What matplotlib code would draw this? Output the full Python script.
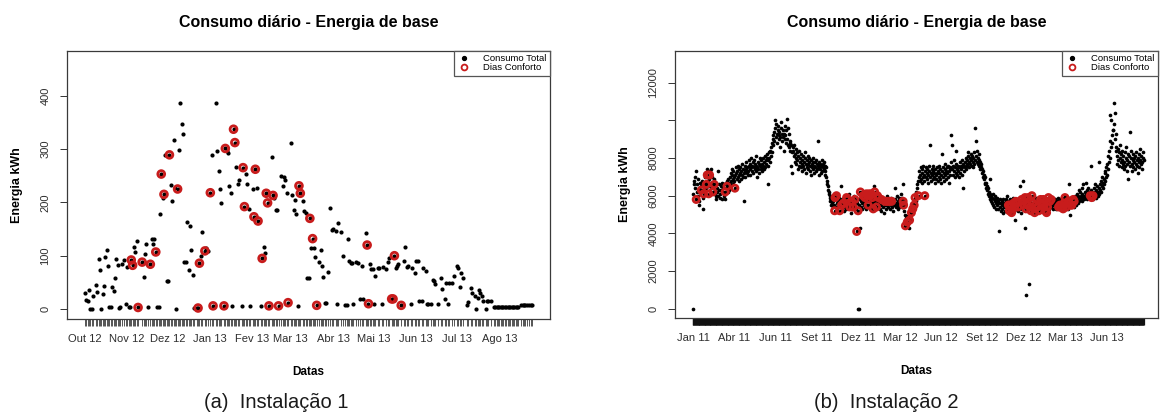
import matplotlib
matplotlib.use("Agg")
import matplotlib.pyplot as plt
import matplotlib.dates as mdates
import numpy as np
from matplotlib.lines import Line2D

plt.rcParams['font.family'] = ['Liberation Sans', 'DejaVu Sans']

TITLE = 'Consumo diário - Energia de base'
XLABEL = 'Datas'
YLABEL = 'Energia kWh'
LEG_TOTAL = 'Consumo Total'
LEG_CONF = 'Dias Conforto'

# ---------------- Instalação 1 (day offsets from start, kWh) ----------------
inst1_start = '2012-10-01'
inst1_days = [0, 1, 2, 3, 4, 5, 6, 8, 9, 10, 11, 12, 13, 14, 15, 16, 17, 18, 19, 20,
              21, 22, 23, 24, 25, 26, 27, 29, 30, 31, 32, 33, 34, 35, 36, 37, 38, 39, 42, 43,
              44, 45, 46, 48, 49, 50, 51, 52, 53, 54, 55, 56, 57, 58, 59, 60, 61, 62, 63, 64,
              65, 66, 67, 68, 69, 70, 71, 72, 73, 74, 75, 76, 77, 78, 79, 80, 82, 83, 84, 85,
              86, 88, 89, 90, 92, 93, 94, 96, 97, 98, 99, 100, 102, 103, 104, 105, 106, 107, 108, 109,
              110, 111, 112, 113, 115, 116, 117, 118, 119, 120, 121, 123, 124, 125, 126, 127, 129, 130, 131, 132,
              133, 134, 135, 137, 138, 139, 140, 141, 142, 144, 145, 146, 147, 148, 149, 151, 152, 153, 154, 155,
              156, 157, 158, 160, 161, 162, 163, 164, 165, 166, 167, 168, 169, 170, 172, 173, 174, 175, 176, 177,
              178, 180, 181, 182, 184, 185, 186, 188, 189, 191, 192, 193, 194, 195, 196, 197, 199, 200, 202, 203,
              204, 206, 207, 208, 209, 210, 211, 212, 213, 215, 216, 218, 219, 221, 222, 223, 225, 226, 227, 228,
              229, 230, 232, 234, 235, 236, 237, 239, 240, 242, 243, 244, 245, 247, 248, 250, 251, 252, 254, 255,
              256, 257, 259, 261, 262, 264, 265, 266, 267, 269, 271, 273, 274, 275, 276, 277, 280, 281, 283, 284,
              286, 287, 288, 289, 290, 291, 292, 294, 295, 296, 298, 300, 301, 302, 303, 304, 305, 306, 307, 308,
              309, 310, 311, 312, 313, 314, 315, 316, 317, 318, 320, 321, 322, 323, 324, 326, 327, 328]
inst1_kwh = [31, 17, 16, 36, 0, 0, 24, 45, 32, 94, 74, 0, 28, 44, 97, 110, 80, 3, 3, 42,
             33, 59, 94, 82, 2, 4, 84, 92, 9, 78, 4, 3, 92, 82, 117, 107, 127, 3, 88, 61,
             104, 122, 3, 84, 132, 122, 132, 107, 3, 3, 178, 253, 209, 215, 289, 52, 52, 289, 232, 202,
             317, 226, 1, 225, 298, 386, 346, 328, 88, 88, 164, 74, 155, 111, 64, 2, 2, 2, 86, 100,
             144, 109, 114, 108, 218, 289, 6, 387, 296, 258, 225, 198, 6, 301, 296, 292, 231, 218, 5, 337,
             312, 267, 234, 241, 6, 265, 192, 253, 234, 187, 6, 225, 173, 262, 227, 165, 6, 95, 117, 105,
             217, 199, 6, 285, 213, 208, 186, 185, 6, 250, 231, 248, 242, 218, 12, 311, 213, 186, 205, 178,
             5, 231, 217, 203, 184, 180, 58, 58, 170, 114, 132, 114, 97, 7, 88, 111, 80, 61, 12, 12,
             69, 190, 148, 150, 147, 9, 161, 144, 100, 7, 7, 132, 90, 86, 86, 10, 89, 86, 19, 81,
             19, 143, 120, 10, 84, 75, 75, 10, 62, 77, 77, 9, 78, 75, 88, 95, 19, 19, 100, 77,
             81, 84, 7, 90, 117, 79, 81, 9, 77, 68, 91, 91, 16, 16, 77, 72, 9, 9, 9, 54,
             52, 47, 9, 59, 37, 19, 49, 9, 49, 49, 62, 81, 77, 42, 67, 58, 7, 13, 39, 30,
             24, 0, 21, 36, 30, 24, 16, 0, 16, 16, 16, 4, 4, 4, 4, 4, 4, 4, 4, 4,
             4, 4, 4, 4, 4, 4, 4, 4, 4, 4, 7, 7, 7, 7, 7, 7, 7, 7]
inst1_conforto = [34, 35, 39, 42, 48, 52, 56, 58, 62, 68, 83, 84, 88, 92, 94, 102, 103, 109, 110, 116,
                  117, 124, 125, 127, 130, 133, 134, 135, 138, 142, 149, 157, 158, 165, 167, 170, 207, 208, 225, 226,
                  227, 232]
inst1_tick_dates = ['2012-10-01', '2012-11-01', '2012-12-01', '2013-01-01', '2013-02-01', '2013-03-01',
                    '2013-04-01', '2013-05-01', '2013-06-01', '2013-07-01', '2013-08-01']
inst1_tick_labels = ['Out 12', 'Nov 12', 'Dez 12', 'Jan 13', 'Fev 13', 'Mar 13', 'Abr 13',
                     'Mai 13', 'Jun 13', 'Jul 13', 'Ago 13']
inst1_yticks = [0, 100, 200, 300, 400]

# ---------------- Instalação 2 (daily values, hundreds of kWh) ----------------
inst2_start = '2011-01-01'
inst2_2011 = [0, 61, 66, 68, 70, 64, 73, 58, 62, 66,
              60, 69, 64, 57, 55, 63, 67, 65, 63, 68,
              62, 59, 53, 61, 65, 70, 67, 72, 64, 66,
              74, 71, 68, 65, 61, 69, 71, 73, 66, 64,
              74, 70, 67, 62, 65, 69, 66, 63, 61, 67,
              60, 58, 64, 62, 60, 73, 66, 63, 61, 59,
              65, 63, 62, 67, 58, 62, 64, 66, 60, 58,
              62, 67, 64, 68, 65, 62, 66, 69, 63, 67,
              70, 66, 72, 68, 71, 74, 66, 69, 73, 68,
              70, 64, 71, 75, 72, 69, 73, 76, 70, 74,
              71, 68, 72, 75, 73, 69, 77, 71, 74, 70,
              72, 57, 73, 76, 70, 74, 78, 72, 75, 71,
              73, 76, 79, 74, 71, 77, 75, 80, 73, 76,
              78, 72, 75, 79, 74, 77, 81, 73, 76, 70,
              75, 78, 74, 77, 72, 80, 76, 74, 79, 75,
              73, 77, 80, 76, 74, 78, 81, 75, 79, 77,
              80, 82, 76, 66, 79, 83, 80, 78, 84, 81,
              86, 88, 83, 90, 92, 87, 94, 89, 96, 100,
              91, 98, 93, 88, 95, 97, 92, 90, 94, 86,
              91, 96, 99, 93, 89, 95, 91, 84, 93, 97,
              90, 92, 88, 95, 101, 90, 87, 96, 93, 86,
              89, 84, 88, 76, 87, 83, 72, 86, 84, 81,
              87, 82, 78, 85, 80, 77, 83, 79, 74, 81,
              76, 84, 78, 80, 75, 82, 77, 73, 79, 81,
              76, 78, 74, 80, 83, 77, 72, 79, 75, 81,
              77, 74, 78, 80, 73, 76, 79, 71, 77, 75,
              78, 74, 80, 76, 72, 78, 75, 79, 73, 77,
              74, 76, 89, 75, 71, 78, 74, 77, 72, 76,
              79, 73, 77, 75, 78, 74, 71, 76, 73, 75,
              70, 68, 66, 63, 65, 61, 62, 59, 60, 57,
              58, 55, 59, 56, 54, 57, 55, 60, 52, 59,
              54, 58, 60, 56, 53, 57, 55, 59, 54, 52,
              57, 65, 56, 55, 53, 58, 55, 56, 52, 57,
              54, 59, 55, 53, 59, 58, 56, 54, 57, 61,
              55, 54, 58, 51, 56, 57, 53, 55, 54, 58,
              56, 60, 58, 55, 53, 57, 41, 56, 0, 52,
              55, 58, 0, 43, 62]
inst2_2012 = [57, 54, 56, 53, 58,
              60, 55, 57, 54, 59, 56, 53, 61, 57, 60,
              55, 55, 58, 61, 57, 53, 60, 56, 61, 58,
              59, 56, 53, 65, 57, 62, 55, 58, 54, 54,
              57, 60, 56, 59, 55, 57, 53, 58, 55, 52,
              58, 56, 59, 54, 57, 51, 56, 57, 55, 58,
              53, 57, 60, 55, 57, 54, 58, 56, 57, 53,
              59, 55, 57, 54, 58, 56, 52, 57, 55, 64,
              58, 54, 56, 60, 55, 53, 57, 59, 56, 54,
              58, 55, 61, 57, 54, 59, 66, 57, 55, 52,
              56, 50, 44, 48, 46, 49, 46, 45, 48, 43,
              50, 47, 49, 52, 50, 51, 54, 52, 53, 56,
              55, 55, 58, 59, 57, 62, 60, 64, 66, 68,
              60, 70, 73, 68, 71, 75, 69, 72, 67, 74,
              70, 76, 71, 68, 60, 73, 70, 75, 72, 69,
              74, 71, 67, 76, 73, 87, 70, 72, 68, 74,
              71, 69, 73, 76, 70, 72, 67, 74, 71, 69,
              75, 72, 68, 73, 70, 76, 72, 69, 74, 71,
              67, 82, 73, 70, 75, 72, 68, 74, 71, 77,
              73, 69, 75, 72, 70, 76, 73, 67, 74, 71,
              75, 78, 92, 87, 74, 71, 76, 73, 79, 70,
              75, 72, 77, 84, 74, 71, 76, 73, 70, 75,
              78, 72, 76, 74, 79, 75, 71, 77, 64, 76,
              73, 78, 75, 80, 74, 77, 79, 76, 81, 83,
              78, 75, 80, 77, 82, 79, 76, 81, 78, 75,
              80, 77, 83, 96, 79, 89, 81, 78, 84, 80,
              77, 82, 79, 76, 78, 74, 77, 75, 72, 74,
              70, 73, 69, 71, 67, 70, 66, 64, 67, 63,
              65, 61, 64, 60, 62, 58, 69, 61, 57, 60,
              56, 59, 55, 61, 58, 54, 57, 60, 53, 56,
              58, 55, 59, 53, 57, 41, 56, 54, 58, 52,
              56, 53, 57, 55, 51, 58, 54, 56, 52, 55,
              57, 58, 54, 60, 56, 53, 55, 57, 52, 55,
              58, 54, 56, 51, 57, 53, 59, 56, 52, 55,
              54, 47, 57, 53, 56, 58, 52, 54, 56, 53,
              57, 65, 54, 51, 56, 58, 53, 55, 68, 57,
              54, 60, 59, 43, 53, 7, 55, 56, 58, 59,
              54]
inst2_2013 = [13, 57, 54, 56, 52, 58, 60, 55, 53,
              56, 58, 54, 51, 57, 55, 59, 53, 56, 54,
              58, 55, 52, 57, 55, 53, 58, 54, 56, 59,
              55, 52, 58, 56, 54, 57, 52, 55, 58, 51,
              56, 54, 57, 59, 55, 53, 57, 56, 54, 58,
              55, 57, 53, 56, 59, 55, 57, 54, 58, 56,
              53, 57, 55, 59, 56, 54, 57, 55, 55, 58,
              54, 56, 54, 59, 55, 53, 57, 56, 60, 59,
              55, 57, 54, 58, 56, 53, 57, 59, 66, 56,
              50, 58, 55, 57, 55, 59, 56, 58, 54, 57,
              60, 58, 55, 59, 57, 61, 58, 56, 60, 63,
              57, 59, 62, 58, 60, 64, 57, 61, 59, 66,
              60, 58, 62, 59, 61, 67, 60, 63, 58, 61,
              64, 60, 62, 59, 60, 63, 76, 59, 62, 58,
              60, 61, 64, 60, 62, 66, 59, 63, 61, 65,
              62, 60, 78, 64, 61, 66, 63, 68, 62, 65,
              70, 64, 67, 69, 66, 72, 68, 73, 70, 75,
              71, 77, 74, 81, 78, 84, 80, 89, 103, 86,
              100, 92, 88, 95, 95, 98, 109, 104, 90, 86,
              93, 84, 81, 77, 85, 79, 83, 76, 80, 87,
              78, 82, 75, 79, 84, 77, 81, 74, 78, 83,
              76, 80, 86, 77, 73, 79, 82, 69, 78, 81,
              94, 76, 80, 84, 77, 73, 79, 82, 75, 80,
              78, 74, 81, 77, 83, 76, 79, 72, 80, 78,
              82, 75, 79, 85, 77, 81, 74, 78, 80, 83, 79]
inst2_conforto = [7, 18, 23, 29, 31, 34, 36, 43, 46, 70, 74, 91,
                  308, 309, 312, 319, 323, 327, 334, 335, 341, 345, 348, 352, 356, 359, 364, 370, 374, 377,
                  379, 381, 383, 386, 388, 390, 392, 395, 399, 401, 403, 410, 417, 421, 424, 428, 432, 457,
                  458, 462, 466, 471, 475, 478, 481, 483, 490, 504,
                  686, 688, 689, 691, 693, 695, 697, 700, 702, 704, 707, 715, 719, 722, 724, 726, 729, 733,
                  735, 737, 740, 743, 745, 749, 752, 756, 758, 760, 762, 764, 766, 769, 771, 773, 776, 779,
                  795, 798, 800, 802, 805, 807, 809, 812, 814, 816, 819, 822, 824, 827, 829,
                  864, 867, 870]
inst2_tick_labels = ['Jan 11', 'Abr 11', 'Jun 11', 'Set 11', 'Dez 11', 'Mar 12', 'Jun 12',
                     'Set 12', 'Dez 12', 'Mar 13', 'Jun 13']
inst2_yticks = [0, 2000, 4000, 6000, 8000, 10000, 12000]
inst2_yticklabels = ['0', '2000', '4000', '6000', '8000', '', '12000']

RED = '#C81C1C'
TXT = '#2e2e2e'

fig = plt.figure(figsize=(11.6, 4.17), dpi=100)
W, H = 1160.0, 417.0
ax1 = fig.add_axes([67 / W, 1 - 319 / H, 483 / W, 268 / H])
ax2 = fig.add_axes([675 / W, 1 - 318 / H, 483 / W, 267 / H])

# data -> dates
d1 = np.datetime64(inst1_start) + np.array(inst1_days, dtype='timedelta64[D]')
v1 = np.array(inst1_kwh, dtype=float)
lookup1 = dict(zip(inst1_days, inst1_kwh))
c1d = np.datetime64(inst1_start) + np.array(inst1_conforto, dtype='timedelta64[D]')
c1v = np.array([lookup1[d] for d in inst1_conforto], dtype=float)

v2 = np.array(inst2_2011 + inst2_2012 + inst2_2013, dtype=float) * 100
d2 = np.datetime64(inst2_start) + np.arange(len(v2)).astype('timedelta64[D]')
c2d = d2[inst2_conforto]
c2v = v2[inst2_conforto]


def style(ax, dates, vals, cd, cv, s_dot, s_ring, pad_l, pad_r, ylim, tick_w):
    ax.scatter(dates, vals, s=s_dot, c='black', marker='o', linewidths=0, zorder=2)
    ax.scatter(cd, cv, s=s_ring, facecolors='none', edgecolors=RED, linewidths=2.0, zorder=3)
    x0 = mdates.date2num(dates.min())
    x1 = mdates.date2num(dates.max())
    rng = x1 - x0
    ax.set_xlim(x0 - pad_l * rng, x1 + pad_r * rng)
    ax.set_ylim(*ylim)
    for sp in ax.spines.values():
        sp.set_color('#3a3a3a')
        sp.set_linewidth(0.9)
    ax.set_xticks(mdates.date2num(dates), minor=True)
    ax.tick_params(axis='x', which='both', length=5, width=tick_w, color='#111111',
                   labelsize=8, labelcolor=TXT, pad=6)
    ax.tick_params(axis='y', length=5, width=0.7, color='#333333', labelsize=8,
                   labelcolor=TXT, pad=7)
    ax.set_title(TITLE, fontsize=11.5, fontweight='bold', pad=17)
    ax.set_xlabel(XLABEL, fontsize=8.5, fontweight='bold')
    ax.xaxis.set_label_coords(0.5, -0.198)
    ax.xaxis.label.set_va('center')
    ax.set_ylabel(YLABEL, fontsize=9, fontweight='bold')
    ax.yaxis.label.set_va('center')
    ax.yaxis.set_label_coords(-0.104, 0.5)
    handles = [Line2D([], [], ls='', marker='o', color='black', markersize=2.8),
               Line2D([], [], ls='', marker='o', mfc='none', mec=RED, mew=1.3, markersize=4.2)]
    leg = ax.legend(handles, [LEG_TOTAL, LEG_CONF], loc='upper right', borderaxespad=0,
                    fontsize=6.8, frameon=True, fancybox=False, edgecolor='#555555',
                    framealpha=1, labelspacing=0.0, handletextpad=1.3, handlelength=1.5,
                    borderpad=0.35)
    leg.get_frame().set_linewidth(0.9)


style(ax1, d1, v1, c1d, c1v, 9, 24, 0.04, 0.04, (-18.6, 483.6), 0.5)
ax1.set_xticks(mdates.date2num(np.array(inst1_tick_dates, dtype='datetime64[D]')))
ax1.set_xticklabels(inst1_tick_labels)
ax1.set_yticks(inst1_yticks)
ax1.set_yticklabels([str(t) for t in inst1_yticks], rotation=90, va='center')

style(ax2, d2, v2, c2d, c2v, 7, 20, 0.04, 0.032, (-500, 13690), 0.9)
ax2.set_xticks(mdates.date2num(d2[::90]))
ax2.set_xticklabels(inst2_tick_labels)
ax2.set_yticks(inst2_yticks)
ax2.set_yticklabels(inst2_yticklabels, rotation=90, va='center')

fig.text(276 / W, 1 - 403 / H, '(a)  Instalação 1', ha='center', va='center', fontsize=14.5, color='#1a1a1a')
fig.text(886 / W, 1 - 403 / H, '(b)  Instalação 2', ha='center', va='center', fontsize=14.5, color='#1a1a1a')

fig.savefig('out.png', dpi=100, facecolor='white')
